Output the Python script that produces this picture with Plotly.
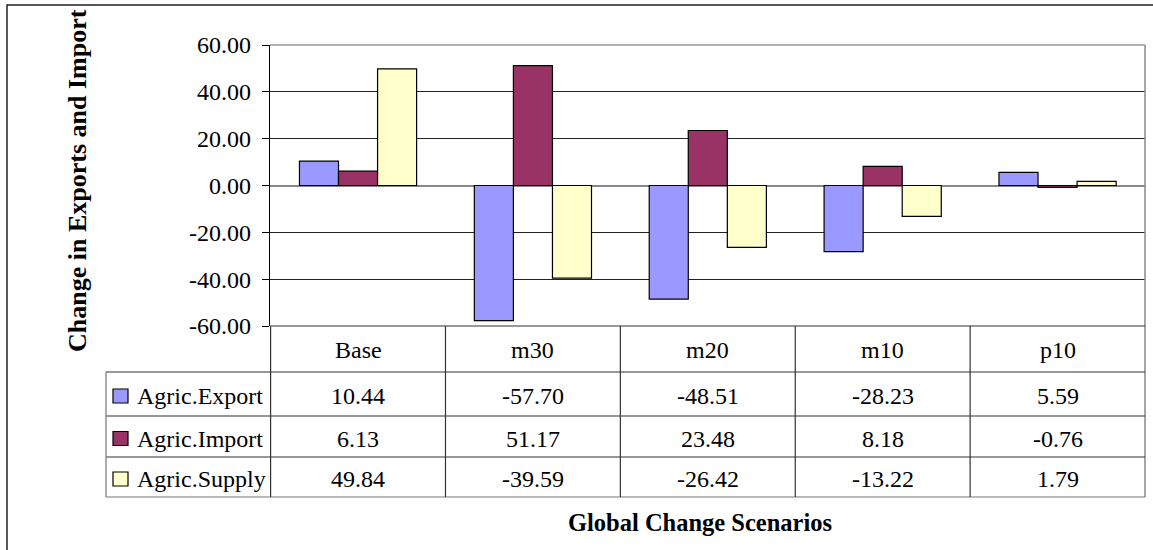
import plotly.graph_objects as go

categories = ["Base", "m30", "m20", "m10", "p10"]
series_names = ["Agric.Export", "Agric.Import", "Agric.Supply"]
agric_export = [10.44, -57.70, -48.51, -28.23, 5.59]
agric_import = [6.13, 51.17, 23.48, 8.18, -0.76]
agric_supply = [49.84, -39.59, -26.42, -13.22, 1.79]
colors = ["#9999FF", "#993366", "#FFFFCC"]
y_ticks = [-60, -40, -20, 0, 20, 40, 60]

W, H = 1153, 550
FONT = "Liberation Serif"
FS = 24


def px(x):
    return x / W


def py(y):
    return 1 - y / H


series_values = [agric_export, agric_import, agric_supply]

fig = go.Figure()
for name, vals, col in zip(series_names, series_values, colors):
    fig.add_trace(go.Bar(
        x=categories, y=vals, name=name,
        marker=dict(color=col, line=dict(color="black", width=1.2)),
        showlegend=False, hoverinfo="skip",
    ))

plot_left, plot_right, plot_top, plot_bottom = 270, 1145, 45, 326
row_lines = [326, 372, 416, 457, 497]
label_left = 106

shapes = []
annotations = []

# outer chart border
shapes.append(dict(type="rect", xref="paper", yref="paper",
                   x0=px(7), x1=px(1165), y0=py(5), y1=py(565),
                   line=dict(color="#222222", width=1.5)))
# plot area top/right border (gray)
shapes.append(dict(type="line", xref="paper", yref="paper",
                   x0=px(plot_left), x1=px(plot_right), y0=py(plot_top), y1=py(plot_top),
                   line=dict(color="#999999", width=1.5)))
shapes.append(dict(type="line", xref="paper", yref="paper",
                   x0=px(plot_right), x1=px(plot_right), y0=py(plot_top), y1=py(497),
                   line=dict(color="#888888", width=1.5)))

# table horizontal lines
for i, yy in enumerate(row_lines):
    x0 = plot_left if i == 0 else label_left
    shapes.append(dict(type="line", xref="paper", yref="paper",
                       x0=px(x0), x1=px(plot_right), y0=py(yy), y1=py(yy),
                       line=dict(color="#333333" if i < 4 else "#777777", width=1.2)))
# table vertical lines at category boundaries
for k in range(len(categories)):
    shapes.append(dict(type="line", xref="x", yref="paper",
                       x0=k - 0.5, x1=k - 0.5, y0=py(plot_bottom), y1=py(497),
                       line=dict(color="#333333", width=1.2)))
# label column left border
shapes.append(dict(type="line", xref="paper", yref="paper",
                   x0=px(label_left), x1=px(label_left), y0=py(372), y1=py(497),
                   line=dict(color="#777777", width=1.2)))

txt = dict(family=FONT, size=FS, color="black")

# header text
for k, c in enumerate(categories):
    annotations.append(dict(x=k, y=py((row_lines[0] + row_lines[1]) / 2 + 1), xref="x", yref="paper",
                            xanchor="center", yanchor="middle",
                            text=c, showarrow=False, font=txt))

# data rows
for r, (name, vals, col) in enumerate(zip(series_names, series_values, colors)):
    yc = (row_lines[r + 1] + row_lines[r + 2]) / 2 + 2
    shapes.append(dict(type="rect", xref="paper", yref="paper",
                       x0=px(113), x1=px(128), y0=py(yc - 7), y1=py(yc + 7),
                       fillcolor=col, line=dict(color="black", width=1.2)))
    annotations.append(dict(x=px(135), y=py(yc), xref="paper", yref="paper",
                            xanchor="left", yanchor="middle",
                            text=name, showarrow=False, font=txt))
    for k, v in enumerate(vals):
        annotations.append(dict(x=k, y=py(yc), xref="x", yref="paper",
                                xanchor="center", yanchor="middle",
                                text=f"{v:.2f}", showarrow=False, font=txt))

# axis titles
annotations.append(dict(x=px(77), y=py(181), xref="paper", yref="paper",
                        xanchor="center", yanchor="middle",
                        text="<b>Change in Exports and Import</b>", textangle=-90, showarrow=False,
                        font=dict(family=FONT, size=26, color="black")))
annotations.append(dict(x=px(700), y=py(522), xref="paper", yref="paper",
                        xanchor="center", yanchor="middle",
                        text="<b>Global Change Scenarios</b>", showarrow=False,
                        font=dict(family=FONT, size=24.5, color="black")))

fig.update_layout(
    width=W, height=H, autosize=False,
    margin=dict(l=0, r=0, t=0, b=0, pad=0, autoexpand=False),
    paper_bgcolor="white", plot_bgcolor="white",
    barmode="group", bargap=0.33, bargroupgap=0,
    shapes=shapes, annotations=annotations,
    xaxis=dict(domain=[px(plot_left), px(plot_right)], showticklabels=False, ticks="",
               showgrid=False, zeroline=False, showline=False, automargin=False),
    yaxis=dict(domain=[py(plot_bottom), py(plot_top)], range=[-60, 60], automargin=False,
               tickvals=y_ticks, ticktext=[f"{t:.2f}" for t in y_ticks],
               ticks="outside", ticklen=7, tickcolor="black", ticklabelstandoff=6,
               showline=True, linecolor="black", linewidth=1.2,
               showgrid=True, gridcolor="#222222", gridwidth=1,
               zeroline=True, zerolinecolor="#888888", zerolinewidth=1.5,
               tickfont=txt),
)

fig.write_html("out.html", config={"displayModeBar": False},
               post_script="document.body.style.margin='0';")
